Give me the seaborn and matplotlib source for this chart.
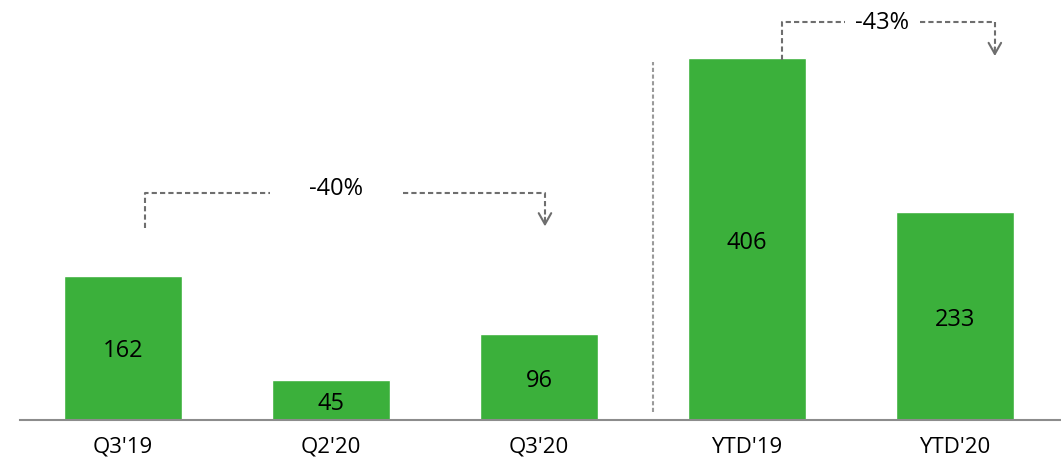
import matplotlib
matplotlib.use('Agg')
import matplotlib.pyplot as plt
import seaborn as sns
import pandas as pd

# data
periods = ["Q3'19", "Q2'20", "Q3'20", "YTD'19", "YTD'20"]
values = [162, 45, 96, 406, 233]
changes = ['-40%', '-43%']

sns.set_style('white')
plt.rcParams['font.family'] = ['Open Sans', 'DejaVu Sans']

df = pd.DataFrame({'period': periods, 'value': values})

fig = plt.figure(figsize=(10.61, 4.70), dpi=100)
ax = fig.add_axes([20 / 1061, 50 / 470, 1041 / 1061, 420 / 470])

sns.barplot(data=df, x='period', y='value', color='#3BB03B', saturation=1,
            width=0.567, ax=ax)

ax.set_xlim(-0.495, 4.51)
ax.set_ylim(0, 471)

# value labels inside bars
for i, v in enumerate(values):
    ax.text(i, v / 2 - 4, str(v), ha='center', va='center', fontsize=17, color='black')

# axis styling
for s in ['top', 'right', 'left']:
    ax.spines[s].set_visible(False)
ax.spines['bottom'].set_color('#8c8c8c')
ax.spines['bottom'].set_linewidth(1.5)
ax.set_yticks([])
ax.set_xlabel('')
ax.set_ylabel('')
ax.tick_params(axis='x', length=0, labelsize=16, pad=12, labelcolor='black')

# separator between quarters and YTD
ax.plot([2.55, 2.55], [9, 402], ls=(0, (2, 1.2)), color='#9a9a9a', lw=1.5)

line_kw = dict(color='#6e6e6e', lw=1.5, ls=(0, (2.5, 1.5)))


def change_arrow(x0, x1, y_start, y_top, y_end, gap0, gap1, label, dy):
    ax.plot([x0, x0, gap0], [y_start, y_top, y_top], **line_kw)
    ax.plot([gap1, x1, x1], [y_top, y_top, y_end + 12], **line_kw)
    ax.annotate('', xy=(x1, y_end), xytext=(x1, y_end + 16),
                arrowprops=dict(arrowstyle='->,head_length=0.8,head_width=0.45',
                                color='#6e6e6e', lw=1.5))
    ax.text((gap0 + gap1) / 2, y_top + dy, label, ha='center', va='center',
            fontsize=17, color='black')


change_arrow(0.106, 2.029, 215, 255, 214, 0.707, 1.346, changes[0], 4)
change_arrow(3.168, 4.192, 404, 446, 405, 3.471, 3.832, changes[1], -1)

fig.savefig('out.png', dpi=100)
